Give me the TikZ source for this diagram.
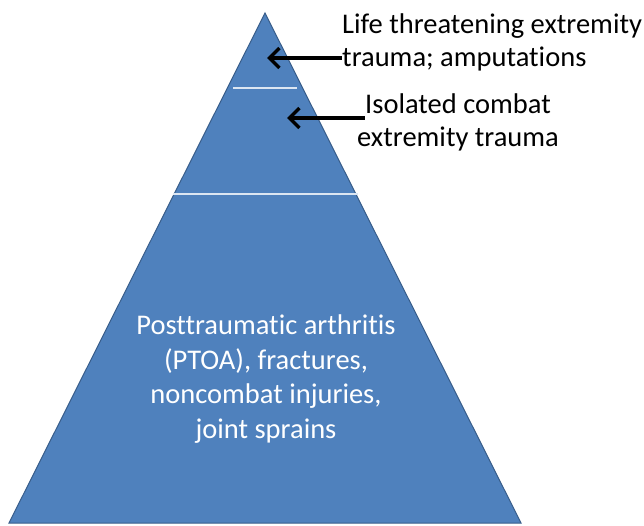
\documentclass[tikz,border=0pt]{standalone}
\usepackage{fontspec}
\setmainfont{Carlito}[Ligatures=NoCommon]
\usetikzlibrary{arrows.meta}
\definecolor{pyramidblue}{HTML}{4F81BD}
\definecolor{pyramidedge}{HTML}{385D8A}
\definecolor{tierline}{HTML}{DCE6F2}

\begin{document}
\begin{tikzpicture}[x=1pt, y=-1pt]
		\tikzset{tier text/.style={font=\fontsize{28.5}{33}\selectfont, inner sep=0pt}}
		\tikzset{pointer/.style={<-, >={Straight Barb[length=10pt, width=20pt]}, line width=3.5pt}}
		\useasboundingbox (0, 0) rectangle (644, 525);
		%pyramid
		\coordinate (apex) at (265, 13);
		\coordinate (baseleft) at (9, 523);
		\coordinate (baseright) at (521, 523);
		\fill[pyramidblue, draw=pyramidedge, line width=1pt] (apex) -- (baseleft) -- (baseright) -- cycle;
		\draw[tierline, line width=1.5pt] (233, 88) -- (297, 88);
		\draw[tierline, line width=1.5pt] (173, 194) -- (358, 194);
		%labels
		\node[tier text, align=left, anchor=west] (top) at (342, 42) {Life threatening extremity\\trauma; amputations};
		\node[tier text, align=center] (mid) at (458, 122) {Isolated combat\\extremity trauma};
		\node[tier text, align=center, text=white, font=\fontsize{28.5}{34.5}\selectfont] (base) at (266, 379) {Posttraumatic arthritis\\(PTOA), fractures,\\noncombat injuries,\\joint sprains};
		%arrows
		\coordinate (toptip) at (267, 58);
		\coordinate (midtip) at (287, 118);
		\draw[pointer] (toptip) -- (top.west |- toptip);
		\draw[pointer] (midtip) -- ([xshift=8pt]mid.west |- midtip);
\end{tikzpicture}
\end{document}
